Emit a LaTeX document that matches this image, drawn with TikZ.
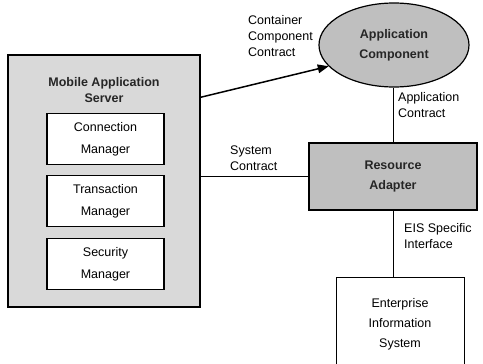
\documentclass[tikz,border=0pt]{standalone}
\usepackage{fontspec}
\setmainfont{Liberation Sans}
\usepackage{xcolor}
\usepackage{tikz}
\usetikzlibrary{shapes,arrows,positioning}

\begin{document}
\begin{tikzpicture}[x=1pt, y=-1pt, font=\fontsize{12.5}{16}\selectfont]
	\clip (0,0) rectangle (483,364);
	% server with its managers
	\node[rectangle, draw, line width=1.5pt, fill=gray!30, minimum width=192pt, minimum height=252pt, inner sep=0pt] (server) at (104,181) {};
	\node[align=center, font=\fontsize{12.5}{16}\selectfont\bfseries, text=black!85] (srvtitle) at (104,90) {Mobile Application\\Server};
	\node[rectangle, draw, line width=1.5pt, fill=white, minimum width=117pt, minimum height=51pt, inner sep=0pt, align=center, font=\fontsize{12.5}{22}\selectfont] (connmgr) at (105.5,139) {Connection\\Manager};
	\node[rectangle, draw, line width=1.5pt, fill=white, minimum width=117pt, minimum height=51pt, inner sep=0pt, align=center, font=\fontsize{12.5}{22}\selectfont] (txmgr) at (105.5,201) {Transaction\\Manager};
	\node[rectangle, draw, line width=1.5pt, fill=white, minimum width=117pt, minimum height=51pt, inner sep=0pt, align=center, font=\fontsize{12.5}{22}\selectfont] (secmgr) at (105.5,264) {Security\\Manager};

	% component, adapter and EIS
	\node[ellipse, draw, line width=1.2pt, fill=gray!50, minimum width=150pt, minimum height=84pt, inner sep=0pt, align=center, font=\fontsize{12.5}{20}\selectfont\bfseries, text=black!85] (appcomp) at (394,45) {Application\\Component};
	\node[rectangle, draw, line width=1.5pt, fill=gray!50, minimum width=168pt, minimum height=67pt, inner sep=0pt, align=center, font=\fontsize{12.5}{20}\selectfont\bfseries, text=black!85] (adapter) at (393,176.5) {Resource\\Adapter};
	\node[rectangle, draw, line width=0.8pt, fill=white, minimum width=128pt, minimum height=95pt, inner sep=0pt, align=center, font=\fontsize{12.5}{20}\selectfont] (eis) at (400,324.5) {Enterprise\\Information\\System};

	% contracts
	\draw[-triangle 45, line width=1.5pt] ([yshift=-43pt]server.north east) -- (appcomp.198);
	\draw[line width=0.8pt] (server.east |- adapter.west) -- (adapter.west);
	\draw[line width=0.8pt] (adapter.north) -- (adapter.north |- appcomp.south);
	\draw[line width=0.8pt] (adapter.south) -- (adapter.south |- eis.north);

	\node[align=left, inner sep=0pt, anchor=west] (ccclabel) at (248,36) {Container\\Component\\Contract};
	\node[align=left, inner sep=0pt, anchor=west] (aclabel) at (398,105) {Application\\Contract};
	\node[align=left, inner sep=0pt, anchor=west] (sclabel) at (230,158) {System\\Contract};
	\node[align=left, inner sep=0pt, anchor=west] (eislabel) at (404,236) {EIS Specific\\Interface};
\end{tikzpicture}
\end{document}
